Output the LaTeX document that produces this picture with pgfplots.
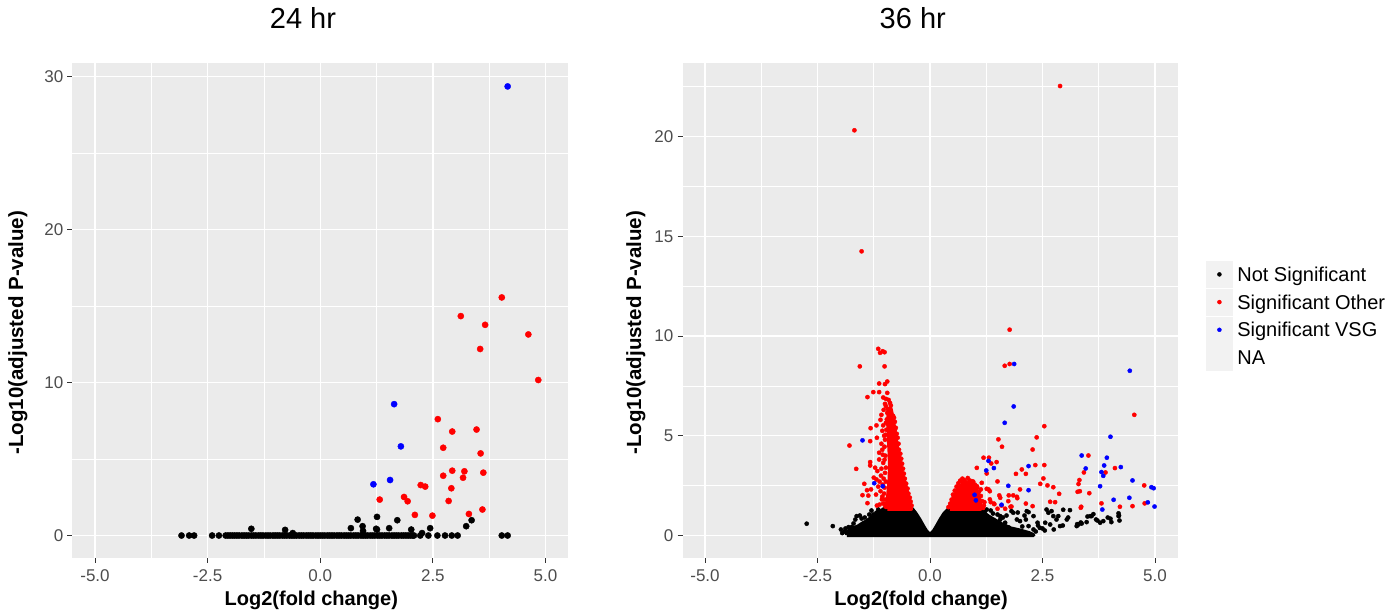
\documentclass[border=0pt]{standalone}
\usepackage{fontspec}
\setmainfont{Liberation Sans}
\usepackage{pgfplots}
\pgfplotsset{compat=1.18}
\definecolor{panelbg}{HTML}{EBEBEB}
\definecolor{keybg}{HTML}{F2F2F2}
\definecolor{ticklab}{HTML}{4D4D4D}
\definecolor{tickmk}{HTML}{333333}
\definecolor{sigred}{HTML}{FF0000}
\definecolor{sigblue}{HTML}{0000FF}
\pgfplotsset{
 gg/.style={
  scale only axis, anchor=south west,
  height=494.5pt,
  axis line style={draw=none},
  axis background/.style={fill=panelbg},
  grid=both,
  major grid style={white, line width=1.4pt},
  minor grid style={white, line width=0.7pt},
  tick align=outside, tick pos=left,
  major tick length=5pt, minor tick length=0pt,
  tick style={tickmk, line width=1pt},
  xmin=-5.5, xmax=5.5,
  xtick={-5,-2.5,0,2.5,5}, xticklabels={-5.0,-2.5,0.0,2.5,5.0},
  minor xtick={-3.75,-1.25,1.25,3.75},
  tick label style={font=\fontsize{17}{20}\selectfont, text=ticklab},
  xticklabel style={anchor=north, inner sep=0pt, yshift=-6pt},
  yticklabel style={anchor=east, inner sep=0pt, xshift=-4pt},
  xlabel={Log2(fold change)},
  ylabel={-Log10(adjusted P-value)},
  every axis x label/.style={at={(axis description cs:0.482,-0.086)}, anchor=center,
     font=\bfseries\fontsize{20}{24}\selectfont},
  title style={font=\fontsize{29}{34}\selectfont, anchor=base, at={(axis description cs:0.4652,1.0591)}},
 },
 ylab/.style={every axis y label/.style={at={(axis description cs:#1,0.4555)}, rotate=90, anchor=center,
     font=\bfseries\fontsize{20.5}{24}\selectfont}},
 ptL/.style={only marks, mark=*, mark size=3.1pt, forget plot},
 ptR/.style={only marks, mark=*, mark size=2.1pt, forget plot},
}
\begin{document}
\begin{tikzpicture}
\useasboundingbox (0pt,0pt) rectangle (1392pt,615pt);
% ---------------- 24 hr ----------------
\begin{axis}[gg, at={(72.5pt,57pt)}, width=495.5pt,
  ymin=-1.47, ymax=30.87,
  ytick={0,10,20,30}, yticklabels={0,10,20,30}, minor ytick={5,15,25},
  title={24 hr}, ylab=-0.110]
\addplot[ptL, black] coordinates {
(-3.08,0) (-2.91,0) (-2.80,0) (-2.40,0) (-2.25,0)
(-2.10,0) (-2.05,0) (-2.0,0) (-1.95,0) (-1.9,0) (-1.85,0) (-1.8,0) (-1.74,0) (-1.69,0) (-1.64,0)
(-1.59,0) (-1.53,0) (-1.48,0) (-1.43,0) (-1.37,0) (-1.32,0) (-1.27,0) (-1.21,0) (-1.16,0) (-1.11,0)
(-1.05,0) (-1.0,0) (-0.95,0) (-0.9,0) (-0.84,0) (-0.79,0) (-0.74,0) (-0.68,0) (-0.63,0) (-0.58,0)
(-0.53,0) (-0.47,0) (-0.42,0) (-0.37,0) (-0.31,0) (-0.26,0) (-0.21,0) (-0.16,0) (-0.1,0) (-0.05,0)
(0,0) (0.05,0) (0.1,0) (0.16,0) (0.21,0) (0.26,0) (0.31,0) (0.37,0) (0.42,0) (0.47,0)
(0.53,0) (0.58,0) (0.63,0) (0.68,0) (0.74,0) (0.79,0) (0.84,0) (0.9,0) (0.95,0) (1.0,0)
(1.05,0) (1.11,0) (1.16,0) (1.21,0) (1.27,0) (1.32,0) (1.37,0) (1.43,0) (1.48,0) (1.53,0)
(1.59,0) (1.64,0) (1.69,0) (1.74,0) (1.8,0) (1.85,0) (1.9,0) (1.95,0) (2.0,0) (2.05,0) (2.08,0)
(2.22,0) (2.40,0) (2.60,0) (2.77,0) (2.92,0) (3.05,0) (4.03,0) (4.16,0)
(-1.53,0.44) (-0.78,0.37) (-0.61,0.16) (0.68,0.48) (0.83,1.04) (0.94,0.61) (0.95,0.3)
(1.26,1.22) (1.26,0.39) (1.24,0.44) (1.53,0.48) (1.71,1.0) (2.02,0.39) (2.26,0.16)
(2.44,0.48) (3.24,0.61) (3.36,1.0)
};
\addplot[ptL, sigred] coordinates {
(4.03,15.57) (3.12,14.35) (3.66,13.78) (4.62,13.15) (3.55,12.2) (4.84,10.17)
(2.61,7.61) (2.93,6.80) (3.47,6.93) (2.73,5.74) (3.56,5.37) (2.93,4.24) (3.20,4.20)
(3.62,4.11) (2.73,3.91) (3.17,3.78) (2.23,3.30) (2.33,3.20) (2.91,3.09) (1.32,2.35)
(1.86,2.52) (1.94,2.24) (2.85,2.26) (2.10,1.35) (2.49,1.30) (3.30,1.41) (3.60,1.70)
};
\addplot[ptL, sigblue] coordinates {
(4.16,29.37) (1.64,8.59) (1.79,5.83) (1.18,3.35) (1.55,3.63)
};
\end{axis}
% ---------------- 36 hr ----------------
\begin{axis}[gg, at={(682.5pt,57pt)}, width=495pt,
  ymin=-1.13, ymax=23.67,
  ytick={0,5,10,15,20}, yticklabels={0,5,10,15,20}, minor ytick={2.5,7.5,12.5,17.5,22.5},
  title={36 hr}, ylab=-0.094,
  legend style={at={(1.0576,0.6006)}, anchor=north west, draw=none, fill=none,
    inner sep=0pt, row sep=1.3pt, font=\fontsize{20}{24}\selectfont,
    cells={anchor=base west}, nodes={inner sep=0pt},
    /tikz/every odd column/.append style={column sep=4.7pt}}]
% dense core of not significant genes
\addplot[fill=black, draw=black, line width=4pt, line join=round, forget plot] coordinates {
(-1.85,0.02) (-1.85,0.15) (-1.75,0.32) (-1.6,0.45) (-1.5,0.6) (-1.4,0.72) (-1.3,0.9)
(-1.18,1.05) (-1.1,1.2) (-1.02,1.33) (-0.40,1.33) (-0.32,1.1) (-0.24,0.82) (-0.16,0.5)
(-0.08,0.2) (0,0.03) (0.08,0.2) (0.16,0.5) (0.24,0.82) (0.32,1.1) (0.42,1.33) (1.1,1.33)
(1.18,1.15) (1.3,0.95) (1.45,0.75) (1.6,0.55) (1.8,0.35) (2.0,0.25) (2.2,0.12) (2.3,0.02)
(-1.85,0.02)
};
\addplot[ptR, black] coordinates {
(-2.74,0.59) (-2.16,0.47) (-1.81,0.42) (-1.74,0.42) (-1.78,0.22) (-1.63,0.97) (-1.56,1.0)
(-1.26,1.05) (-1.19,1.14) (-1.41,0.64) (-1.9,0.2) (-1.95,0.12) (-1.7,0.6) (-1.45,0.9)
(-1.3,1.25) (-1.15,1.3) (-1.98,0.3) (-1.88,0.35) (-1.66,0.8) (-1.52,0.85) (-1.35,1.05)
(1.26,1.30) (1.56,0.97) (1.56,0.80) (1.67,0.64) (1.81,1.22) (1.85,1.14) (1.93,0.80)
(2.0,0.72) (2.13,0.80) (2.19,1.17) (2.19,0.47) (2.15,1.22) (2.30,0.97) (2.39,0.64)
(2.44,0.38) (2.56,0.64) (2.59,1.30) (2.63,1.14) (2.67,0.55) (2.70,1.22) (2.74,0.97)
(2.81,0.80) (2.85,0.97) (2.89,0.47) (2.95,0.5) (2.96,1.29) (3.04,0.80) (3.07,0.9)
(3.11,1.27) (3.26,0.47) (3.27,0.57) (3.30,0.55) (3.37,0.60) (3.48,0.67) (3.56,0.97)
(3.59,0.97) (3.63,1.07) (3.69,0.80) (3.72,0.75) (3.78,0.64) (3.85,0.72) (4.01,0.84)
(4.03,0.67) (4.19,0.97) (4.21,0.75) (4.19,1.11) (2.3,0.3) (2.5,0.35) (2.4,0.5) (2.05,0.45)
(1.75,0.4) (2.1,1.0) (1.95,1.15) (1.4,1.1) (1.7,1.0) (2.35,0.2) (2.55,0.25) (2.75,0.3)
(3.35,0.65) (3.5,0.95) (3.95,0.9) (4.2,1.0) (1.22,1.2) (1.35,1.25) (1.5,1.05) (1.62,0.9)
};
% dense cores of significant genes
\addplot[fill=sigred, draw=sigred, line width=4pt, line join=round, forget plot] coordinates {
(-0.95,1.33) (-0.42,1.33) (-0.47,1.8) (-0.54,2.45) (-0.62,3.1) (-0.68,3.8) (-0.73,4.4)
(-0.77,5.0) (-0.81,5.6) (-0.85,6.1) (-0.88,6.4) (-0.92,6.2) (-0.93,5.8) (-0.92,5.0)
(-0.90,4.2) (-0.89,3.5) (-0.90,2.8) (-0.93,2.0) (-0.96,1.5) (-0.95,1.33)
};
\addplot[fill=sigred, draw=sigred, line width=4pt, line join=round, forget plot] coordinates {
(0.44,1.33) (1.12,1.33) (1.10,1.8) (1.05,2.2) (0.98,2.45) (0.88,2.6) (0.78,2.62)
(0.68,2.5) (0.60,2.2) (0.52,1.85) (0.47,1.55) (0.44,1.33)
};
\addplot[ptR, sigred] coordinates {
(2.89,22.54) (-1.68,20.32) (-1.52,14.25) (1.77,10.32) (1.66,8.51) (1.77,8.60)
(-1.15,9.36) (-1.05,9.24) (-1.11,9.16) (-1.01,9.19) (-1.56,8.48) (-1.01,8.48)
(-1.13,7.62) (-1.00,7.59) (-0.95,7.72) (-1.26,7.19) (-1.13,7.19) (-0.95,7.15) (-1.39,6.94)
(-1.04,6.92) (-0.98,6.85) (-0.89,6.65) (-0.87,6.52) (-0.98,6.49) (-0.95,6.15) (-0.89,6.07)
(-0.85,5.98) (-0.96,5.82) (-0.93,5.57) (-0.85,5.45) (-1.04,5.52) (-1.19,5.52) (-1.32,5.38)
(-0.78,5.32)
(-1.79,4.51) (-1.33,4.73) (-1.64,3.34) (-1.33,3.68) (-1.33,3.51) (-1.46,2.59) (-1.50,2.02)
(-1.39,1.62) (-1.37,2.0) (-1.10,2.22) (-1.07,1.81) (-1.17,3.23) (-1.31,2.31) (-1.19,2.81)
(-1.13,4.15) (-1.13,3.81) (-1.04,3.64) (-1.00,3.14) (-1.40,2.27)
(-1.08,4.6) (-1.02,5.0) (-1.06,4.3) (-0.99,4.0) (-1.09,3.0) (-0.98,2.7) (-1.05,2.55)
(-1.02,2.1) (-1.04,1.6) (-0.99,1.45) (-1.12,1.55) (-0.98,3.4) (-1.0,4.8) (-0.97,5.3)
(-1.1,5.8) (-0.92,6.8) (-1.03,6.3) (-1.18,4.9) (-1.22,3.4) (-1.25,2.9) (-1.15,2.45)
(-0.82,6.0) (-0.78,5.7) (-0.74,5.1) (-0.70,4.6) (-0.66,4.1) (-0.62,3.6) (-0.58,3.1)
(-0.53,2.6) (-0.48,2.1) (-0.43,1.7)
(-0.80,5.9) (-0.76,5.4) (-0.72,4.9) (-0.69,4.3) (-0.64,3.85) (-0.60,3.35) (-0.56,2.85)
(-0.50,2.35) (-0.45,1.9) (-0.41,1.5) (-1.01,2.4) (-1.03,2.85) (-1.01,3.8) (-1.05,4.05)
(-1.01,4.45) (-0.99,5.05) (-1.06,5.25) (-0.98,5.65) (-1.08,6.05) (-0.94,6.35) (-1.0,6.6)
(-1.08,3.35) (-1.12,2.7) (-1.06,1.95) (-1.0,1.8) (-1.2,2.05) (-1.18,1.5)
(0.45,1.6) (0.48,1.8) (0.51,2.05) (0.55,2.25) (0.59,2.45) (0.63,2.62) (0.67,2.75)
(0.72,2.85) (0.76,2.78) (0.84,2.88) (0.88,2.76) (0.96,2.7) (1.0,2.55) (1.05,2.42)
(1.09,2.2) (1.13,1.98) (1.16,1.72) (1.2,1.5) (1.18,1.38) (0.62,2.3) (0.53,1.95)
(0.75,2.68) (0.92,2.62) (1.07,2.05) (0.41,1.42)
(4.54,6.05) (2.54,5.48) (2.37,4.92) (1.52,4.82) (1.60,4.45) (2.28,4.31) (3.52,4.01)
(1.19,3.90) (1.31,3.90) (1.48,3.68) (1.36,3.61) (1.04,3.39) (2.04,3.31) (2.34,3.53)
(2.54,3.53) (1.91,3.09) (2.13,3.09) (2.52,2.86) (2.45,2.59) (2.61,2.51) (2.74,2.42)
(2.87,2.09) (2.67,1.69) (2.78,1.67) (2.13,1.60) (2.28,1.47) (1.50,2.71) (1.26,3.11)
(1.15,2.64) (1.30,2.31) (1.35,1.67) (1.43,1.57) (1.21,1.67) (1.54,2.01) (1.75,2.01)
(1.85,2.01) (1.94,1.87) (1.81,1.45) (1.67,1.34) (2.00,2.31) (0.70,2.72) (0.93,2.72)
(1.04,2.47) (1.13,2.31) (1.26,2.34) (1.33,2.22) (1.33,1.81) (1.56,1.89) (1.42,1.60)
(1.59,1.50) (1.50,1.34) (1.79,1.44) (1.74,1.72) (1.93,1.94) (0.80,2.67)
(3.30,2.58) (3.32,2.78) (3.28,2.19) (3.36,1.44) (3.42,3.16) (3.54,2.12) (3.90,3.16)
(4.11,3.38) (3.81,1.61) (4.22,1.44) (4.50,1.47) (4.76,2.51) (4.77,1.61) (3.35,1.39)
(3.33,2.22)
};
\addplot[ptR, sigblue] coordinates {
(4.44,8.26) (1.87,8.60) (1.86,6.47) (1.66,5.65) (4.01,4.95) (-1.50,4.77) (1.30,3.74)
(1.42,3.38) (1.25,3.26) (2.19,3.48) (1.74,2.49) (2.19,2.27) (0.99,2.04) (1.02,1.76)
(1.59,1.54) (-1.24,2.62) (-1.05,2.47) (3.37,4.01) (3.46,3.36) (3.78,2.47) (3.81,3.18)
(3.85,2.99) (3.87,3.51) (3.93,3.90) (4.24,3.43) (3.83,1.30) (4.08,1.79) (4.50,2.76)
(4.43,1.89) (4.84,1.66) (4.92,2.42) (4.97,2.37) (4.99,1.45)
};
\addlegendimage{legend image code/.code={\fill[keybg] (0pt,-5.8pt) rectangle (26pt,20.2pt); \fill[black] (13pt,7.2pt) circle (2pt);}}
\addlegendentry{Not Significant}
\addlegendimage{legend image code/.code={\fill[keybg] (0pt,-5.8pt) rectangle (26pt,20.2pt); \fill[sigred] (13pt,7.2pt) circle (2pt);}}
\addlegendentry{Significant Other}
\addlegendimage{legend image code/.code={\fill[keybg] (0pt,-5.8pt) rectangle (26pt,20.2pt); \fill[sigblue] (13pt,7.2pt) circle (2pt);}}
\addlegendentry{Significant VSG}
\addlegendimage{legend image code/.code={\fill[keybg] (0pt,-5.8pt) rectangle (26pt,20.2pt);}}
\addlegendentry{NA}
\end{axis}
\end{tikzpicture}
\end{document}
